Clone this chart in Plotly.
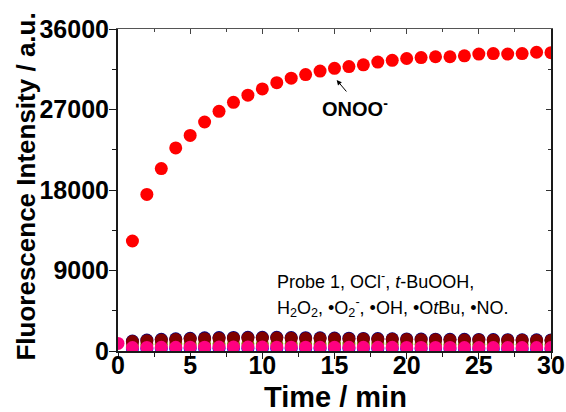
import plotly.graph_objects as go

# Time axis (min)
time_onoo = list(range(1, 31))
time_other = list(range(1, 31))
time_pink = list(range(0, 31))

# Fluorescence intensity (a.u.)
onoo = [12300, 17500, 20400, 22700, 24100, 25600, 26800, 27800, 28600, 29300,
        30000, 30500, 30900, 31300, 31600, 31800, 32000, 32300, 32500, 32700,
        32800, 32900, 32900, 33000, 33200, 33250, 33200, 33250, 33400, 33350]
navy_vals = [1120, 1230, 1300, 1370, 1420, 1470, 1500, 1520, 1540, 1540,
             1530, 1510, 1490, 1470, 1450, 1430, 1410, 1390, 1370, 1350,
             1340, 1320, 1310, 1300, 1290, 1280, 1270, 1260, 1250, 1240]
wine_vals = [1050, 1150, 1220, 1280, 1330, 1380, 1410, 1430, 1450, 1450,
             1440, 1420, 1400, 1390, 1370, 1350, 1330, 1310, 1300, 1280,
             1270, 1250, 1240, 1230, 1220, 1210, 1200, 1190, 1180, 1170]
olive_vals = [700, 740, 760, 780, 790, 800, 800, 810, 810, 810,
              800, 800, 790, 790, 780, 780, 770, 770, 760, 760,
              750, 750, 740, 740, 730, 730, 720, 720, 710, 710]
blue_vals = [260, 270, 280, 290, 300, 300, 310, 310, 310, 310,
             300, 300, 300, 290, 290, 290, 280, 280, 280, 270,
             270, 270, 260, 260, 260, 250, 250, 250, 250, 250]
pink_vals = [850, 380, 400, 410, 420, 430, 430, 440, 440, 440, 440,
             430, 430, 430, 420, 420, 420, 410, 410, 410, 400,
             400, 400, 400, 390, 390, 390, 380, 380, 380, 380]

x_ticks = [0, 5, 10, 15, 20, 25, 30]
y_ticks = [0, 9000, 18000, 27000, 36000]
y_tick_text = ["0", "9000", "18000", "27000", "36000"]

FONT = "Liberation Sans, Arial, sans-serif"
MS = 13
X_RANGE = [0, 30]
Y_RANGE = [0, 36000]

fig = go.Figure()

def dots(x, y, color):
    fig.add_trace(go.Scatter(x=x, y=y, mode="markers",
                             marker=dict(size=MS, color=color, line=dict(width=0)),
                             showlegend=False, hoverinfo="skip"))

dots(time_other, blue_vals, "#0000FF")
dots(time_other, olive_vals, "#808000")
dots(time_other, navy_vals, "#000080")
dots(time_other, wine_vals, "#800000")
dots(time_pink, pink_vals, "#FF0080")
dots(time_onoo, onoo, "#FF0000")

# empty traces so the frame axes (top/right) and label axes get drawn
fig.add_trace(go.Scatter(x=[], y=[], xaxis="x2", yaxis="y2",
                         showlegend=False, hoverinfo="skip"))
fig.add_trace(go.Scatter(x=[], y=[], xaxis="x3", yaxis="y3",
                         showlegend=False, hoverinfo="skip"))

axis_line = dict(showline=True, linecolor="#1a1a1a", linewidth=1.5,
                 showgrid=False, zeroline=False, automargin=False)
tick_font = dict(size=25, family=FONT, weight="bold", color="black")

fig.update_layout(
    width=566, height=412, autosize=False,
    margin=dict(l=118, r=15, t=29, b=61),
    paper_bgcolor="white", plot_bgcolor="white",
    font=dict(family=FONT, color="black"),
    # bottom / left axes: line and outward ticks
    xaxis=dict(range=X_RANGE, tickvals=x_ticks, ticks="outside", ticklen=6,
               tickwidth=1.3, tickcolor="#1a1a1a", showticklabels=False,
               minor=dict(dtick=2.5, tick0=0, ticks="outside", ticklen=4,
                          tickwidth=1.3, tickcolor="#1a1a1a"),
               **axis_line),
    yaxis=dict(range=Y_RANGE, tickvals=y_ticks, ticks="outside", ticklen=7,
               tickwidth=1.3, tickcolor="#1a1a1a", showticklabels=False,
               minor=dict(dtick=4500, tick0=0, ticks="outside", ticklen=4,
                          tickwidth=1.3, tickcolor="#1a1a1a"),
               **axis_line),
    # top / right axes: inward ticks, no labels
    xaxis2=dict(overlaying="x", side="top", anchor="y", range=X_RANGE,
                tickvals=x_ticks, ticks="inside", ticklen=5, tickwidth=1,
                tickcolor="#444",
                minor=dict(dtick=2.5, tick0=0, ticks="inside", ticklen=3,
                           tickwidth=1, tickcolor="#444"),
                showticklabels=False, showline=True, linecolor="#555",
                linewidth=1, showgrid=False, zeroline=False, automargin=False),
    yaxis2=dict(overlaying="y", side="right", anchor="x", range=Y_RANGE,
                tickvals=y_ticks, ticks="inside", ticklen=5, tickwidth=1,
                tickcolor="#333",
                minor=dict(dtick=4500, tick0=0, ticks="inside", ticklen=3,
                           tickwidth=1, tickcolor="#333"),
                showticklabels=False, showline=True, linecolor="#1a1a1a",
                linewidth=1.5, showgrid=False, zeroline=False, automargin=False),
    # tick-label axes
    xaxis3=dict(overlaying="x", side="bottom", anchor="free", position=0.01,
                range=X_RANGE, tickvals=x_ticks, ticks="", showline=False,
                showgrid=False, zeroline=False, automargin=False,
                tickfont=tick_font),
    yaxis3=dict(overlaying="y", side="left", anchor="free", position=0,
                range=Y_RANGE, tickvals=y_ticks, ticktext=y_tick_text,
                ticks="outside", ticklen=4, tickcolor="rgba(0,0,0,0)",
                showline=False, showgrid=False, zeroline=False,
                automargin=False, tickfont=tick_font),
)

# axis titles
fig.add_annotation(x=0.502, y=-0.142, xref="paper", yref="paper",
                   xanchor="center", yanchor="middle",
                   text="<b>Time / min</b>", showarrow=False,
                   font=dict(size=29, family=FONT, color="black"))
fig.add_annotation(x=-0.213, y=0.51, xref="paper", yref="paper",
                   xanchor="center", yanchor="middle", textangle=-90,
                   text="<b>Fluorescence Intensity / a.u.</b>", showarrow=False,
                   font=dict(size=26, family=FONT, color="black"))

# arrow towards the ONOO- curve
fig.add_annotation(x=15.15, y=30300, xref="x", yref="y", text="",
                   showarrow=True, arrowhead=2, arrowsize=1, arrowwidth=1,
                   arrowcolor="black", ax=11, ay=13)
fig.add_annotation(x=16.4, y=27200, xref="x", yref="y",
                   text="<b>ONOO<sup>-</sup></b>", showarrow=False,
                   font=dict(size=20, family=FONT, color="black"))

fig.add_annotation(x=10.85, y=7900, xref="x", yref="y", xanchor="left",
                   text="Probe 1, OCl<sup>-</sup>, <i>t</i>-BuOOH,",
                   showarrow=False, font=dict(size=18, family=FONT, color="black"))
fig.add_annotation(x=10.85, y=4900, xref="x", yref="y", xanchor="left",
                   text="H<sub>2</sub>O<sub>2</sub>, •O<sub>2</sub><sup>-</sup>, •OH, •O<i>t</i>Bu, •NO.",
                   showarrow=False, font=dict(size=18, family=FONT, color="black"))

fig.write_html("out.html")
